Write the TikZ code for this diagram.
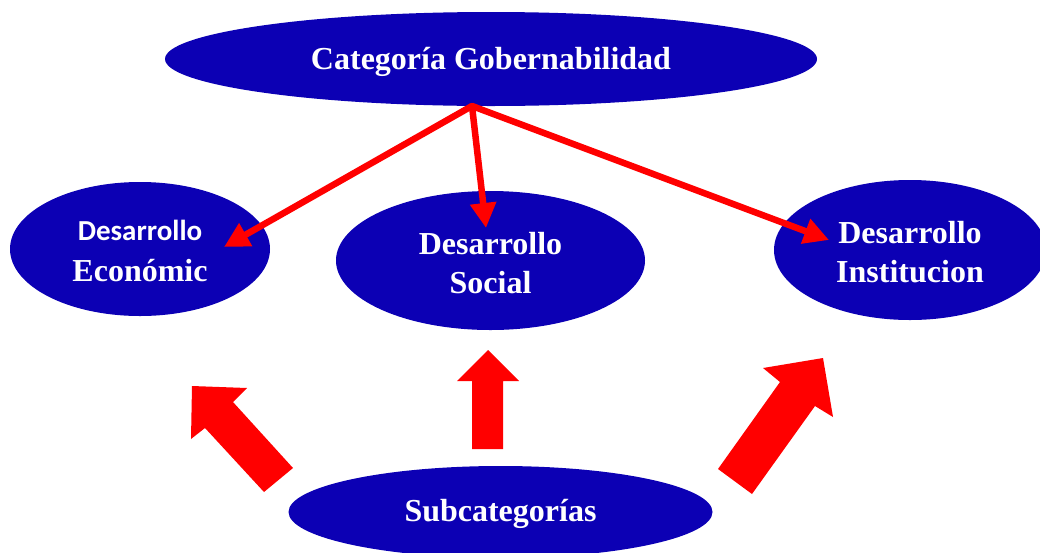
\documentclass[tikz,border=0pt]{standalone}
\usepackage{fontspec}
\setmainfont{Liberation Serif}
\newfontfamily\carl{Carlito}
\usetikzlibrary{shapes.geometric,arrows.meta}
\definecolor{dblue}{RGB}{12,0,180}
\definecolor{rred}{RGB}{255,0,0}
\tikzset{
  blob/.style={ellipse, fill=dblue, draw=none, inner sep=0pt},
  txt/.style={text=white, inner sep=0pt,
    font=\bfseries\fontsize{32}{39}\selectfont, align=center},
  thinarrow/.style={draw=rred, line width=6.5pt, -{Triangle[length=25pt,width=25pt]}},
  blockarrow/.style={fill=rred, draw=none}
}
\begin{document}
\begin{tikzpicture}[x=1pt,y=-1pt]
\clip (0,0) rectangle (1040,552);
\useasboundingbox (0,0) rectangle (1040,552);
\fill[white] (0,0) rectangle (1040,552);
% ellipses
\node[blob, minimum width=652, minimum height=94] (top) at (491,59) {};
\node[blob, minimum width=260, minimum height=134] (eco) at (140,249) {};
\node[blob, minimum width=309, minimum height=139] (soc) at (490.5,260.5) {};
\node[blob, minimum width=272, minimum height=140] (ins) at (910,250) {};
\node[blob, minimum width=424, minimum height=92] (sub) at (500.5,512) {};
% texts
\node[txt] (topT) at ([yshift=-2.5pt]top.center) {Categoría Gobernabilidad};
\node[txt] (ecoT) at ([yshift=-1.5pt]eco.center)
  {{\carl\fontsize{29}{34}\selectfont Desarrollo}\\[2pt]Económic};
\node[txt] (socT) at ([yshift=-2.5pt]soc.center) {Desarrollo\\Social};
\node[txt] (insT) at ([yshift=-2pt]ins.center) {Desarrollo\\Institucion};
\node[txt] (subT) at ([yshift=-1.5pt]sub.center) {Subcategorías};
% thin arrows
\coordinate (apex) at (472,106);
\coordinate (tEco) at (224,247);
\coordinate (tSoc) at (486,228);
\coordinate (tIns) at (829,240);
\draw[thinarrow] (apex) -- (tEco);
\draw[thinarrow] (apex) -- (tSoc);
\draw[thinarrow] (apex) -- (tIns);
\fill[rred] (apex) circle (3.2pt);
% block arrows
\fill[blockarrow] (192,386) -- (247,388) -- (233,402) -- (293,468) -- (264,492)
  -- (205,428) -- (191,439) -- cycle;
\fill[blockarrow] (488,350) -- (519,381) -- (503,381) -- (503,449) -- (472,449)
  -- (472,381) -- (457,381) -- cycle;
\fill[blockarrow] (823,358) -- (833,417) -- (815,406) -- (752,494) -- (718,469)
  -- (780,382) -- (763,368) -- cycle;
\end{tikzpicture}
\end{document}
